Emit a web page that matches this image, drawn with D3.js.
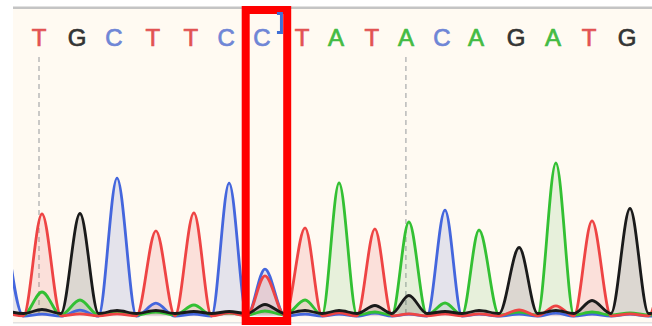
<!DOCTYPE html>
<html>
<head>
<meta charset="utf-8">
<script src="https://cdn.jsdelivr.net/npm/d3@7"></script>
<style>
  html, body { margin: 0; padding: 0; background: #fff; }
  svg { display: block; }
</style>
</head>
<body>
<svg width="652" height="326"></svg>
<script>
// base calls shown on top, one per peak 0..17
const bases = ['T', 'G', 'C', 'T', 'T', 'C', 'C', 'T', 'A', 'T', 'A', 'C', 'A', 'G', 'A', 'T', 'G', 'T'];
// peak locations in scan units, for peaks -1 .. 17 (peak -1 is cut off on the left edge)
const peakScan = [987.9, 1000, 1012.4, 1024.5, 1037.2, 1049.6, 1061.1, 1072.8, 1085.9, 1097.0,
    1108.7, 1119.8, 1131.6, 1142.7, 1155.8, 1167.8, 1179.6, 1192.0, 1204.1];
// signal height of every channel at each peak
const traceA = [3, 23, 15, 2, 3, 10, 2, 4, 15, 132, 3, 93, 12, 85, 3, 152, 3, 2, 3];
const traceC = [95, 2, 6, 138, 13, 2, 133, 47, 2, 2, 3, 2, 106, 2, 2, 3, 2, 2, 2];
const traceG = [3, 4, 100, 3, 3, 2, 2, 9, 3, 3, 8, 18, 2, 3, 66, 3, 13, 105, 3];
const traceT = [3, 102, 2, 2, 85, 103, 3, 40, 88, 3, 87, 2, 2, 2, 6, 10, 95, 2, 95];
// every tenth base gets a dashed marker
const markerBase = [0, 10];
// highlighted base
const selectedBase = 6;

const channels = [
    { base: 'C', values: traceC, line: '#4466dd', fill: 'rgba(95,110,200,0.17)', text: '#6f86d6', dy: 1.2 },
    { base: 'A', values: traceA, line: '#33c033', fill: 'rgba(70,180,70,0.13)', text: '#44bb44', dy: 0 },
    { base: 'T', values: traceT, line: '#ee4444', fill: 'rgba(230,80,80,0.15)', text: '#e25252', dy: 0.8 },
    { base: 'G', values: traceG, line: '#1a1a1a', fill: 'rgba(40,40,40,0.16)', text: '#333333', dy: -1.5 }
];
const textColor = {};
channels.forEach(c => { textColor[c.base] = c.text; });

const svg = d3.select('svg');
const panel = { left: 13, right: 652, top: 9, bottom: 322 };

const x = d3.scaleLinear().domain([1000, 1192]).range([42, 630]);
const y = d3.scaleLinear().domain([0, 160]).range([315, 155]);

// scan location of base i (bases start at peak 0, which is peakScan[1])
const baseX = i => x(peakScan[i + 1]);

// panel background
svg.append('rect')
    .attr('x', panel.left).attr('y', panel.top)
    .attr('width', panel.right - panel.left).attr('height', panel.bottom - panel.top)
    .attr('fill', '#fffaf2');

svg.append('rect')
    .attr('x', panel.left).attr('y', 6.5)
    .attr('width', panel.right - panel.left).attr('height', 2.5)
    .attr('fill', '#c4c4c4');

svg.append('rect')
    .attr('x', panel.left).attr('y', panel.bottom)
    .attr('width', panel.right - panel.left).attr('height', 1.5)
    .attr('fill', '#e2e2e2');

svg.append('defs')
    .append('clipPath')
    .attr('id', 'clip')
    .append('rect')
    .attr('x', panel.left).attr('y', panel.top)
    .attr('width', panel.right - panel.left).attr('height', panel.bottom - panel.top);

const letterShift = -3;

// dashed markers
svg.append('g')
    .selectAll('line')
    .data(markerBase)
    .enter()
    .append('line')
    .attr('x1', d => baseX(d) + letterShift)
    .attr('x2', d => baseX(d) + letterShift)
    .attr('y1', 57)
    .attr('y2', y(0))
    .attr('stroke', '#b9b9b9')
    .attr('stroke-width', 1.5)
    .attr('stroke-dasharray', '5,4');

// trace points: apex at every peak, valley half way to the next one
function tracePoints(values) {
    const pts = [];
    peakScan.forEach((s, i) => {
        pts.push([s, values[i]]);
        if (i < peakScan.length - 1) pts.push([(s + peakScan[i + 1]) / 2, 0]);
    });
    return pts;
}

const traces = svg.append('g').attr('clip-path', 'url(#clip)');

channels.forEach(c => {
    const area = d3.area()
        .x(d => x(d[0]))
        .y0(y(0) + c.dy)
        .y1(d => y(d[1]) + c.dy)
        .curve(d3.curveMonotoneX);
    traces.append('path')
        .datum(tracePoints(c.values))
        .attr('d', area)
        .attr('fill', c.fill);
});

channels.forEach(c => {
    const line = d3.line()
        .x(d => x(d[0]))
        .y(d => y(d[1]) + c.dy)
        .curve(d3.curveMonotoneX);
    traces.append('path')
        .datum(tracePoints(c.values))
        .attr('d', line)
        .attr('fill', 'none')
        .attr('stroke', c.line)
        .attr('stroke-width', 2.8)
        .attr('stroke-linejoin', 'round');
});

// base call letters
svg.append('g')
    .selectAll('text')
    .data(bases)
    .enter()
    .append('text')
    .attr('x', (d, i) => baseX(i) + letterShift)
    .attr('y', 46)
    .attr('text-anchor', 'middle')
    .attr('fill', d => textColor[d])
    .attr('stroke', d => textColor[d])
    .attr('stroke-width', 0.7)
    .style('font-family', '"Liberation Sans", Arial, sans-serif')
    .style('font-size', '24px')
    .text(d => d);

// red highlight box
svg.append('rect')
    .attr('x', baseX(selectedBase) - 19.25)
    .attr('y', 10)
    .attr('width', 41.5)
    .attr('height', 311)
    .attr('fill', 'none')
    .attr('stroke', '#ff0000')
    .attr('stroke-width', 8);

// blue cursor after the selected base
const cx = baseX(selectedBase) + 16.5;
svg.append('path')
    .attr('d', `M${cx - 4.5},13.5 H${cx} V32.5 H${cx - 4.5}`)
    .attr('fill', 'none')
    .attr('stroke', '#3f6fd6')
    .attr('stroke-width', 3);
</script>
</body>
</html>
